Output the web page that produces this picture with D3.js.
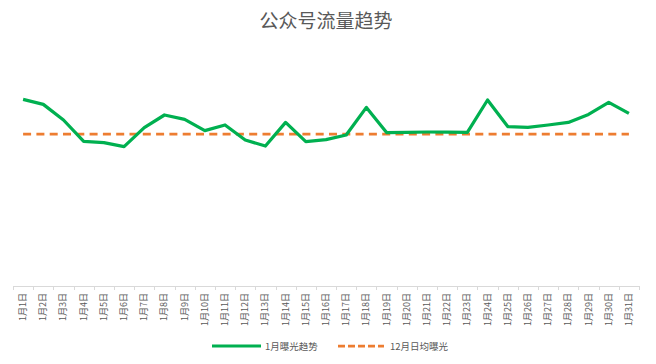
<!DOCTYPE html>
<html lang="zh">
<head>
<meta charset="UTF-8">
<title>公众号流量趋势</title>
<style>
    body { margin: 0; background: #fff; }
    svg { display: block; font-family: "Noto Sans CJK SC", "Noto Sans", sans-serif; }
    .title { font-size: 19px; fill: #595959; text-anchor: middle; }
    .tick-label { font-size: 9px; fill: #595959; }
    .legend-label { font-size: 9.5px; fill: #595959; }
</style>
</head>
<body>
<div id="chart"></div>
<script src="https://cdn.jsdelivr.net/npm/d3@7"></script>
<script>
    // data
    var days = d3.range(1, 32).map(function (d) { return "1月" + d + "日"; });
    var exposure = [933, 908, 830, 723, 717, 697, 792, 855, 833, 777,
                    805, 730, 700, 818, 722, 732, 755, 893, 767, 768,
                    770, 770, 768, 930, 797, 793, 805, 818, 858, 918, 863];
    var decAvg = 760;
    var seriesNames = ["1月曝光趋势", "12月日均曝光"];

    var width = 656, height = 364;
    var plotLeft = 13, plotRight = 639, plotTop = 46, plotBottom = 286;

    var svg = d3.select("#chart").append("svg")
        .attr("width", width)
        .attr("height", height);

    svg.append("text").attr("class", "title")
        .attr("x", 326).attr("y", 28)
        .text("公众号流量趋势");

    var x = d3.scaleBand().domain(days).range([plotLeft, plotRight]);
    var y = d3.scaleLinear().domain([0, 1200]).range([plotBottom, plotTop]);

    // x axis line + ticks between categories
    svg.append("line")
        .attr("x1", plotLeft).attr("x2", plotRight)
        .attr("y1", plotBottom + 0.5).attr("y2", plotBottom + 0.5)
        .attr("stroke", "#d9d9d9");

    var bounds = days.map(function (d) { return x(d); }).concat([plotRight]);
    svg.selectAll(".tk").data(bounds).enter().append("line")
        .attr("x1", function (d) { return Math.round(d) + 0.5; })
        .attr("x2", function (d) { return Math.round(d) + 0.5; })
        .attr("y1", plotBottom).attr("y2", plotBottom + 4)
        .attr("stroke", "#d9d9d9");

    svg.selectAll(".tick-label").data(days).enter().append("text")
        .attr("class", "tick-label")
        .attr("text-anchor", "end")
        .attr("transform", function (d) {
            return "translate(" + (x(d) + x.bandwidth() / 2 + 3) + "," + (plotBottom + 7) + ") rotate(-90)";
        })
        .text(function (d) { return d; });

    var cx = function (d, i) { return x(days[i]) + x.bandwidth() / 2; };

    // december average (dashed)
    svg.append("path")
        .datum(days)
        .attr("fill", "none")
        .attr("stroke", "#ED7D31")
        .attr("stroke-width", 2.75)
        .attr("stroke-dasharray", "8,5.3")
        .attr("d", d3.line().x(function (d) { return x(d) + x.bandwidth() / 2; }).y(y(decAvg)));

    // january exposure
    svg.append("path")
        .datum(exposure)
        .attr("fill", "none")
        .attr("stroke", "#00B050")
        .attr("stroke-width", 3.25)
        .attr("stroke-linejoin", "round")
        .attr("d", d3.line().x(cx).y(function (d) { return y(d); }));

    // legend
    var lg = svg.append("g").attr("transform", "translate(0,346)");
    lg.append("line").attr("x1", 212).attr("x2", 261).attr("y1", 0).attr("y2", 0)
        .attr("stroke", "#00B050").attr("stroke-width", 3);
    lg.append("text").attr("class", "legend-label").attr("x", 265).attr("y", 3.5).text(seriesNames[0]);
    lg.append("line").attr("x1", 338).attr("x2", 384).attr("y1", 0).attr("y2", 0)
        .attr("stroke", "#ED7D31").attr("stroke-width", 2.75).attr("stroke-dasharray", "7,3");
    lg.append("text").attr("class", "legend-label").attr("x", 390).attr("y", 3.5).text(seriesNames[1]);
</script>
</body>
</html>
